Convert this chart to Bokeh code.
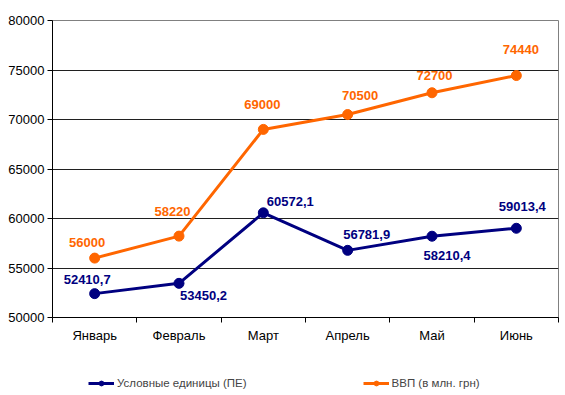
from bokeh.plotting import figure
from bokeh.layouts import column
from bokeh.models import ColumnDataSource, FixedTicker, Legend, LegendItem, Range1d
from bokeh.core.properties import value
from bokeh.embed import file_html
from bokeh.resources import INLINE

months = ["Январь", "Февраль", "Март", "Апрель", "Май", "Июнь"]
units = [52410.7, 53450.2, 60572.1, 56781.9, 58210.4, 59013.4]
gdp = [56000, 58220, 69000, 70500, 72700, 74440]
y_ticks = [50000, 55000, 60000, 65000, 70000, 75000, 80000]
units_name = "Условные единицы (ПЕ)"
gdp_name = "ВВП (в млн. грн)"

# label placement offsets (screen px)
units_dx = [-7.5, 24.5, 27, 19, 15, 6]
units_dy = [-14.5, 12.5, -11, -16, 19, -22]
gdp_dx = [-7.5, -6.5, -1, 12.5, 2.5, 4.5]
gdp_dy = [-16, -25, -25, -19.5, -17, -26.5]

BLUE = "#000080"
ORANGE = "#FF6600"
FONT = "Liberation Sans"

xs = [i + 0.5 for i in range(len(months))]

src_u = ColumnDataSource(dict(x=xs, y=units,
                              t=[f"{v:.1f}".replace(".", ",") for v in units],
                              dx=units_dx, dy=units_dy))
src_g = ColumnDataSource(dict(x=xs, y=gdp, t=[str(v) for v in gdp],
                              dx=gdp_dx, dy=gdp_dy))

p = figure(frame_width=506, frame_height=297,
           x_range=Range1d(0, len(months)), y_range=Range1d(y_ticks[0], y_ticks[-1]),
           output_backend="svg", toolbar_location=None,
           min_border_left=52, min_border_right=7, min_border_top=20,
           min_border_bottom=48,
           background_fill_color="white", border_fill_color="white",
           outline_line_color="#808080")

# axes
p.xaxis.ticker = FixedTicker(ticks=xs, minor_ticks=list(range(len(months) + 1)))
p.xaxis.major_label_overrides = {x: m for x, m in zip(xs, months)}
p.xaxis.major_tick_line_color = None
p.xaxis.major_tick_out = 5
p.xaxis.major_tick_in = 0
p.xaxis.minor_tick_out = 5
p.xaxis.minor_tick_in = 0
p.xaxis.minor_tick_line_color = "black"
p.xaxis.major_label_standoff = 5
p.yaxis.ticker = FixedTicker(ticks=y_ticks)
p.yaxis.minor_tick_line_color = None
p.yaxis.major_tick_out = 5
p.yaxis.major_tick_in = 0
p.yaxis.major_label_standoff = 3
for ax in (p.xaxis, p.yaxis):
    ax.axis_line_color = "black"
    ax.major_label_text_font = FONT
    ax.major_label_text_font_size = "13px"
    ax.major_label_text_color = "black"

p.xgrid.visible = False
p.ygrid.ticker = FixedTicker(ticks=y_ticks)
p.ygrid.grid_line_color = "#202020"
p.ygrid.grid_line_width = 1

# series
p.line("x", "y", source=src_u, line_color=BLUE, line_width=3)
p.scatter("x", "y", source=src_u, size=10, fill_color=BLUE, line_color=BLUE)
p.line("x", "y", source=src_g, line_color=ORANGE, line_width=3)
p.scatter("x", "y", source=src_g, size=10, fill_color=ORANGE, line_color=ORANGE)

for src, col in ((src_u, BLUE), (src_g, ORANGE)):
    p.text("x", "y", text="t", source=src, x_offset="dx", y_offset="dy",
           text_color=col, text_font=value(FONT), text_font_size="13px",
           text_font_style="bold", text_align="center", text_baseline="middle")

# legend strip below the chart (same series, out of this strip's view)
q = figure(width=565, height=30, x_range=Range1d(100, 101), y_range=Range1d(0, 1),
           output_backend="svg", toolbar_location=None,
           x_axis_location=None, y_axis_location=None,
           min_border=0, outline_line_color=None,
           background_fill_color="white", border_fill_color="white")
q.xgrid.visible = False
q.ygrid.visible = False
lu = q.line("x", "y", source=src_u, line_color=BLUE, line_width=3)
su = q.scatter("x", "y", source=src_u, size=6, fill_color=BLUE, line_color=BLUE)
lg = q.line("x", "y", source=src_g, line_color=ORANGE, line_width=3)
sg = q.scatter("x", "y", source=src_g, size=6, fill_color=ORANGE, line_color=ORANGE)

legend = Legend(items=[LegendItem(label=units_name, renderers=[lu, su]),
                       LegendItem(label=gdp_name, renderers=[lg, sg])],
                orientation="horizontal", location=(36, 6),
                glyph_width=26, glyph_height=12, label_standoff=3,
                label_text_font=FONT, label_text_font_size="11.5px",
                label_height=12, spacing=116, padding=0, margin=0,
                border_line_color=None, background_fill_alpha=0)
q.add_layout(legend, "center")

open("out.html", "w").write(file_html(column(p, q), INLINE))
